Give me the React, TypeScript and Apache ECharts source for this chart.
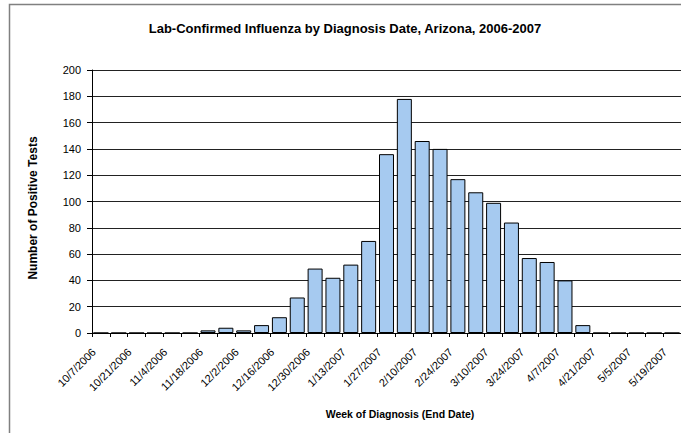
import React, { useEffect, useRef } from "react";
import * as echarts from "echarts";

const weeks: string[] = [
  "10/7/2006", "10/14/2006", "10/21/2006", "10/28/2006", "11/4/2006", "11/11/2006",
  "11/18/2006", "11/25/2006", "12/2/2006", "12/9/2006", "12/16/2006", "12/23/2006",
  "12/30/2006", "1/6/2007", "1/13/2007", "1/20/2007", "1/27/2007", "2/3/2007",
  "2/10/2007", "2/17/2007", "2/24/2007", "3/3/2007", "3/10/2007", "3/17/2007",
  "3/24/2007", "3/31/2007", "4/7/2007", "4/14/2007", "4/21/2007", "4/28/2007",
  "5/5/2007", "5/12/2007", "5/19/2007",
];

const positiveTests: number[] = [
  0, 0, 0, 0, 0, 0,
  2, 4, 2, 6, 12, 27,
  49, 42, 52, 70, 136, 178,
  146, 140, 117, 107, 99, 84,
  57, 54, 40, 6, 0, 0,
  0, 0, 0,
];

const titleText = "Lab-Confirmed Influenza by Diagnosis Date, Arizona, 2006-2007";
const yAxisTitle = "Number of Positive Tests";
const xAxisTitle = "Week of Diagnosis (End Date)";

export default function App() {
  const ref = useRef<HTMLDivElement>(null);
  useEffect(() => {
    if (!ref.current) return;
    const chart = echarts.init(ref.current, undefined, { renderer: "svg" });
    const font = "Arial, 'Liberation Sans', sans-serif";
    chart.setOption({
      animation: false,
      backgroundColor: "#ffffff",
      textStyle: { fontFamily: font },
      grid: { left: 92, top: 70, width: 592, height: 263, containLabel: false },
      xAxis: {
        type: "category",
        data: weeks,
        boundaryGap: true,
        axisLine: { lineStyle: { color: "#000", width: 1 } },
        axisTick: { show: true, length: 4, alignWithLabel: false, interval: 0, lineStyle: { color: "#000" } },
        axisLabel: {
          interval: 1,
          rotate: 45,
          fontSize: 11,
          color: "#000",
          fontFamily: font,
          margin: 10,
          padding: [0, 10, 0, 0],
        },
        splitLine: { show: false },
      },
      yAxis: {
        type: "value",
        min: 0,
        max: 200,
        interval: 20,
        axisLine: { show: true, lineStyle: { color: "#000", width: 1 } },
        axisTick: { show: true, length: 5, lineStyle: { color: "#000" } },
        axisLabel: { fontSize: 11, color: "#000", fontFamily: font, margin: 11 },
        splitLine: { show: true, lineStyle: { color: "#222", width: 1 } },
      },
      series: [
        {
          type: "bar",
          data: positiveTests,
          barCategoryGap: "16%",
          itemStyle: { color: "#a6caf0", borderColor: "#000", borderWidth: 1 },
        },
      ],
      graphic: [
        {
          type: "rect",
          shape: { x: 9.5, y: 4.5, width: 700, height: 460 },
          style: { fill: "none", stroke: "#808080", lineWidth: 1.5 },
          silent: true,
        },
        {
          type: "text",
          x: 345,
          y: 28,
          style: {
            text: titleText,
            fontSize: 13,
            fontWeight: "bold",
            fontFamily: font,
            fill: "#000",
            align: "center",
            verticalAlign: "middle",
          },
        },
        {
          type: "text",
          x: 33,
          y: 208,
          rotation: Math.PI / 2,
          style: {
            text: yAxisTitle,
            fontSize: 12,
            fontWeight: "bold",
            fontFamily: font,
            fill: "#000",
            align: "center",
            verticalAlign: "middle",
          },
        },
        {
          type: "text",
          x: 400,
          y: 414,
          style: {
            text: xAxisTitle,
            fontSize: 10.5,
            fontWeight: "bold",
            fontFamily: font,
            fill: "#000",
            align: "center",
            verticalAlign: "middle",
          },
        },
      ],
    });
    return () => chart.dispose();
  }, []);
  return (
    <div
      ref={ref}
      style={{ position: "fixed", left: 0, top: 0, width: 681, height: 433, background: "#fff" }}
    />
  );
}
